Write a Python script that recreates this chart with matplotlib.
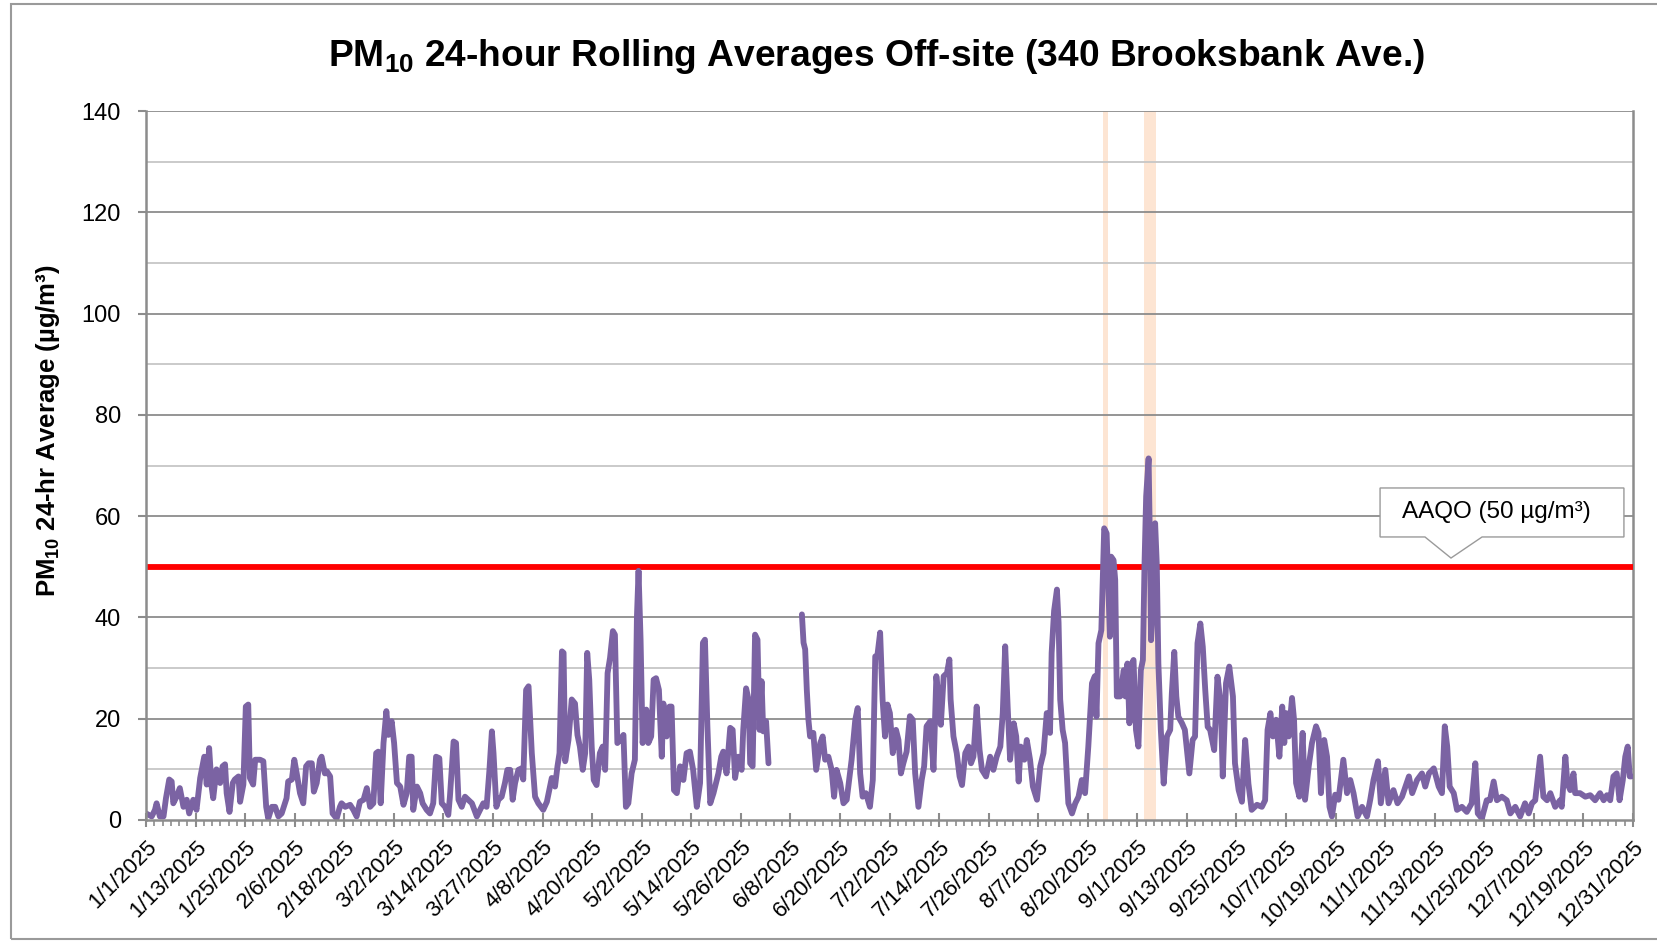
"""PM10 24-hour rolling averages, off-site monitor (340 Brooksbank Ave.)"""
import matplotlib
matplotlib.use('Agg')
import matplotlib.pyplot as plt
import numpy as np
from matplotlib.patches import Polygon, Rectangle

plt.rcParams['font.family'] = ['Liberation Sans', 'DejaVu Sans']
plt.rcParams['mathtext.default'] = 'regular'

# day of year (0 = 1/1/2025) and 24-h average PM10
days = [0, 1.4, 2.2, 2.6, 3.4, 4.3, 4.9, 5.7, 6.3, 6.7, 7.5, 8.3, 9.2, 10, 10.6, 11.6, 12.4, 13.3, 14.3, 14.9,
        15.5, 16.1, 16.5, 17.3, 18.2, 18.8, 19.4, 19.8, 20.5, 21.3, 21.8, 22.7, 23.1, 23.9, 24.5, 25.1, 25.5, 26.3,
        26.8, 28, 28.8, 29.5, 30.0, 30.9, 31.7, 32.5, 33.3, 34.5, 34.9, 35.8, 36.4, 37, 37.8, 38.6, 39.3, 39.9,
        40.7, 41.2, 41.9, 42.7, 43.1, 43.9, 44.4, 45.2, 45.8, 46.8, 47.6,
        48.0, 48.9, 50.1, 50.9, 51.7, 52.5, 53.4, 54.2, 55.0, 55.8, 56.5, 57.0, 57.6, 58.3, 59.0, 59.5, 60.3,
        60.9, 61.6, 62.4, 63.2, 64.0, 64.6, 65.2, 65.6, 66.5, 67.3, 67.9, 68.9, 69.7, 70.5, 71.2, 72.0, 72.6,
        73.4, 74.2, 74.6, 75.5, 76.1, 76.7, 77.5, 78.3, 79.1, 80.0, 81.2, 82.0, 82.8, 83.6, 84.3, 84.9, 85.3,
        86.0, 86.5, 87.3, 88.1, 88.7, 89.4, 90.0, 90.6, 91.4, 92.2, 92.6, 93.3, 93.9,
        94.7, 95.5, 96.3, 97.5, 98.4, 99.6, 100.4, 101.0, 101.5, 102.1, 102.5, 102.9, 103.7, 104.5, 105.3,
        105.9, 106.5, 107.2, 107.8, 108.3, 108.8, 109.4, 109.9, 110.6, 111.4, 112.1, 112.7, 113.3, 113.9,
        114.6, 115.1, 115.7, 116.4, 117.2, 117.8, 118.4, 119.2, 120.0, 120.5, 120.9, 121.4, 121.9, 122.8,
        123.3, 124.0, 124.6, 125.2, 125.9, 126.6, 127.0, 127.8, 128.5, 129.0, 129.6, 130.3, 131.1, 131.9,
        132.7, 133.5, 134.3, 135.2, 136.0, 136.7, 137.2, 137.8, 138.5, 139.3, 140.5,
        141.2, 141.7, 142.5, 143.4, 144.0, 144.6, 145.4, 146.2, 146.6, 147.3, 147.9, 148.3, 148.9, 149.5,
        150.1, 150.6, 151.1, 151.5, 152.2, 152.8, 157.0,
        161.0, 161.4, 161.8, 162.2, 162.6, 163.0, 163.8, 164.5, 165.5, 166.1, 166.7, 167.5, 168.3, 168.9,
        169.5, 170.4, 171.2, 172.0, 173.2, 174.1, 174.7, 175.3, 175.9, 176.7, 177.7, 178.4, 179.0, 179.5,
        180.2, 180.8, 181.4, 182.0, 182.6, 183.3, 184.1, 184.7, 185.3, 185.9, 186.7,
        187.5, 188.2, 188.8, 189.6, 190.4, 191.0, 191.6, 192.5, 193.3, 194.0, 194.5, 195.1, 195.8, 196.6,
        197.2, 197.5, 198.2, 199.0, 199.7, 200.3, 201.1, 201.9, 202.5, 203.1, 203.9, 204.6, 205.2, 206.2,
        207.2, 208.0, 208.8, 209.7, 210.3, 210.9, 211.5, 212.1, 213.0, 213.6, 214.2, 214.7, 215.6, 216.2,
        217.0, 217.7, 218.7, 219.5, 220.3, 221.1, 221.9, 222.3, 222.9, 223.6, 224.0, 224.4, 225.0, 225.6,
        226.4, 227.3, 228.1, 228.9, 229.7, 230.5, 231.3, 232.2, 232.9, 233.3, 233.8, 234.5, 235.2, 235.8,
        236.3, 236.6, 236.9, 237.5, 237.9, 238.3, 239.1, 240.0, 240.4, 240.9, 241.4, 242.0, 242.4, 243.0,
        243.6, 244.2, 244.7, 245.1, 245.5, 246.1, 246.5, 246.7, 247.3, 247.7, 248.1, 248.5, 249.1, 249.8,
        250.6, 251.4, 251.8, 252.4, 252.9, 253.4, 254.3, 255.0, 256.1, 256.9, 257.5, 258.1, 258.8, 259.4,
        260.0, 260.6, 261.2, 262.2, 263.0, 263.8, 264.3, 265.1, 265.9, 266.8, 267.3, 268.2, 269.0, 269.8,
        270.6, 271.4, 272.7, 273.9, 274.7, 275.3, 276.0, 276.6, 277.4, 278.2, 278.9, 279.4, 279.9, 280.5,
        281.3, 281.8, 282.3, 283.1, 283.9, 284.5, 285.4, 286.2, 287.2, 287.8, 288.4, 289.2, 289.9, 290.5,
        291.1, 291.9, 292.7, 293.9, 294.8, 295.6, 296.4, 297.4, 298.5, 299.7, 300.5, 301.3, 302.4, 303.1,
        304.2, 305.0, 306.2, 307.2, 308.3, 310.0, 310.8, 312.0, 313.2, 314.0, 314.9, 316.1, 317.3, 318.1,
        318.8, 319.4, 320.0, 321.0, 321.8, 323.0, 324.2, 325.4, 326.3, 326.9, 327.9, 329.1, 329.9, 330.8,
        331.6, 332.8, 334.0, 334.9, 336.1, 337.3, 338.5, 339.4, 340.2, 341.0, 342.2, 343.0, 343.9, 344.7,
        345.9, 347.1, 347.5, 348.4, 348.9, 349.6, 350.4, 350.8, 352.0, 353.3, 354.5, 355.7, 356.9, 357.8,
        358.6, 359.4, 360.2, 361.0, 361.7, 362.5, 363.1, 363.7, 364.2, 364.6]
pm10 = [1.3, 0.7, 2, 3.3, 0.7, 0.7, 4.3, 8, 7.6, 3.3, 4.6, 6.3, 2.6, 4, 1.3, 4, 2, 8.3, 12.5, 7,
        14.2, 6.6, 4.3, 10, 7.3, 10.6, 11, 5.3, 1.6, 7.3, 8, 8.6, 3.6, 7, 22.4, 22.8, 8.3, 7,
        11.9, 11.9, 11.6, 2.6, 0.3, 2.6, 2.6, 0.7, 1.3, 4.3, 7.6, 8, 11.9, 9.2, 5.3, 3.3, 10.6, 11.2,
        11.2, 5.6, 7.3, 11.9, 12.5, 9.2, 9.6, 8.6, 1.3, 0.3, 2.6,
        3.3, 2.6, 3, 2, 0.7, 3.6, 4, 6.3, 2.6, 3.3, 13.2, 13.5, 3.3, 15.2, 21.5, 16.8, 19.5,
        15.2, 7.3, 6.6, 3, 5.3, 12.5, 12.5, 2, 6.6, 5.3, 3.3, 2, 1.3, 3.3, 12.5, 12.2, 3.3,
        2.6, 1, 4.6, 15.5, 15.2, 4, 2.6, 4.6, 4, 3.3, 0.7, 2, 3.3, 2.6, 9.9, 17.5, 13.2,
        2.6, 4, 4.6, 7.3, 9.9, 9.9, 4, 7.3, 9.9, 10.2, 8, 25.7, 26.4,
        13.2, 4.6, 3.3, 2, 3.6, 8.3, 6.6, 10.6, 13.2, 33.3, 33, 11.6, 15.8, 23.8, 23,
        16.8, 14.5, 9.9, 13.2, 33, 27.7, 14.5, 7.9, 6.9, 13.2, 14.5, 9.9, 29, 32,
        37.3, 36.6, 15.2, 15.8, 16.8, 2.6, 3.3, 9.2, 11.9, 40, 49.2, 35.6, 15.2, 21.8,
        15.2, 16.5, 27.7, 28, 25.7, 12.5, 23, 16.5, 22.4, 22.4, 5.9, 5.3, 10.6, 7.9,
        13.2, 13.5, 9.9, 2.6, 7.3, 35, 35.6, 18.5, 3.3, 5.3, 9.2,
        12.5, 13.5, 9.2, 18.2, 17.8, 8.3, 12.5, 9.9, 17.8, 26, 23.8, 11.2, 10.6, 36.6,
        35.6, 17.8, 27.4, 17.5, 19.5, 11.2, None,
        40.6, 35, 33.7, 25.7, 19.8, 16.5, 17.2, 9.9, 15.2, 16.5, 11.9, 12.5, 9.9, 4.6,
        9.9, 7.3, 3.3, 4, 11.9, 19.8, 22.1, 9.2, 4.6, 5.3, 2.6, 7.9, 32.3, 32.3,
        37, 23.8, 16.5, 22.8, 21.1, 13.2, 17.8, 15.8, 9.2, 11.2, 13.5,
        20.5, 19.8, 9.2, 2.6, 7.9, 10.6, 18.5, 19.5, 9.9, 28.4, 24.4, 18.8, 28.4, 29,
        31.7, 23.8, 16.5, 13.2, 8.6, 6.9, 13.2, 14.5, 11.2, 12.5, 22.4, 13.9, 9.9, 8.6,
        12.5, 9.9, 12.5, 14.5, 21.1, 34.3, 22.4, 11.9, 19.1, 16.5, 7.6, 14.5, 11.9, 15.8,
        11.9, 6.6, 4, 10.6, 13.2, 21.1, 17.2, 33, 41.3, 45.5, 39, 23.8, 17.8, 15.2,
        3.3, 1.3, 3.3, 4.6, 7.9, 5.3, 14.5, 27, 28.4, 20.4, 34.9, 37.5, 57.6, 56.6,
        44.1, 36.2, 52, 51.3, 47.4, 24.4, 24.4, 29.6, 24.4, 30.9, 19.1, 30.9, 31.6, 17.8,
        14.5, 29.6, 31.6, 50.7, 63.9, 71.4, 50.7, 35.5, 44.1, 58.6, 50.7, 30.9, 17.8, 7.2,
        16.5, 17.8, 25, 33.2, 24.4, 20.4, 19.1, 17.8, 9.2, 15.8, 16.5, 34.9, 38.8, 34.2,
        25.7, 18.4, 17.8, 13.8, 28.3, 23, 8.6, 27, 30.3, 24.4, 11.2, 5.9, 3.6, 15.8,
        7.2, 2, 3, 2.6, 3.9, 17.8, 21.1, 16.5, 19.8, 12.5, 22.4, 15.2, 21.1, 16.5,
        24.1, 19.8, 7.3, 4.6, 17.2, 4, 10.6, 15.2, 18.5, 17.2, 5.3, 15.8, 12.5, 2.6,
        0.7, 5, 4, 11.9, 5.3, 7.9, 5.3, 0.7, 2.6, 0.7, 4, 7.9, 11.6, 3.3,
        9.9, 3.3, 5.9, 3.3, 4.6, 8.6, 5.3, 7.9, 9.2, 6.6, 9.2, 10.2, 6.6, 5.3,
        18.5, 14.5, 6.6, 5.3, 2, 2.6, 1.6, 3.3, 11.2, 1.3, 0.3, 3.9, 3.9, 7.6,
        3.9, 4.6, 3.9, 1.3, 2.6, 0.7, 3.3, 1.3, 3.3, 3.9, 12.5, 4.6, 3.9, 5.3,
        2.6, 3.9, 2.6, 12.5, 7.2, 5.9, 9.2, 5.3, 5.3, 4.6, 4.9, 3.9, 5.3, 3.9,
        4.9, 3.9, 8.6, 9.2, 3.9, 7.9, 12.5, 14.5, 8.6, 8.6]

tick_labels = ['1/1/2025', '1/13/2025', '1/25/2025', '2/6/2025', '2/18/2025', '3/2/2025', '3/14/2025',
               '3/27/2025', '4/8/2025', '4/20/2025', '5/2/2025', '5/14/2025', '5/26/2025', '6/8/2025',
               '6/20/2025', '7/2/2025', '7/14/2025', '7/26/2025', '8/7/2025', '8/20/2025', '9/1/2025',
               '9/13/2025', '9/25/2025', '10/7/2025', '10/19/2025', '11/1/2025', '11/13/2025',
               '11/25/2025', '12/7/2025', '12/19/2025', '12/31/2025']
aaqo = 50  # ug/m3 objective
# shaded periods (day of year start, end)
shaded = [(234.8, 236.1), (245.0, 247.9)]

purple = '#7b63a3'
grid_major = '#8c8c8c'
grid_minor = '#c6c6c6'

fig = plt.figure(figsize=(16.57, 9.42), dpi=100)
ax = fig.add_axes([146 / 1657, 1 - 820 / 942, 1487 / 1657, 709 / 942])

y = np.array([np.nan if v is None else v for v in pm10], dtype=float)
x = np.array(days, dtype=float)

for s, e in shaded:
    ax.axvspan(s, e, color='#fde5d3', zorder=1, lw=0)

ax.set_ylim(0, 140)
ax.set_xlim(0, 365)
ax.set_yticks(np.arange(0, 141, 20))
ax.set_yticks(np.arange(10, 140, 20), minor=True)
for v in np.arange(20, 141, 20):
    ax.axhline(v, color=grid_major, lw=1.3, zorder=2)
for v in np.arange(10, 140, 20):
    ax.axhline(v, color=grid_minor, lw=1.3, zorder=2)

ax.axhline(aaqo, color='#ff0000', lw=4.2, zorder=3)
ax.plot(x, y, color=purple, lw=4.2, solid_joinstyle='round', solid_capstyle='round', zorder=4)

ax.spines['top'].set_visible(False)
for side in ['left', 'bottom', 'right']:
    ax.spines[side].set_color(grid_major)
    ax.spines[side].set_linewidth(1.8)
ax.spines['left'].set_zorder(5)
ax.spines['bottom'].set_zorder(5)

major_x = np.linspace(0, 365, len(tick_labels))
ax.set_xticks(major_x)
ax.set_xticks(np.linspace(0, 365, 6 * (len(tick_labels) - 1) + 1), minor=True)
ax.set_xticklabels(tick_labels, rotation=45, ha='right', va='top', rotation_mode='anchor', fontsize=16)
ax.tick_params(axis='x', which='major', direction='inout', length=10, width=1.5, color=grid_major, pad=7)
ax.tick_params(axis='x', which='minor', direction='out', length=4, width=1.2, color=grid_major)
ax.tick_params(axis='y', which='major', direction='out', length=6, width=1.5, color=grid_major,
               labelsize=17, pad=12)
ax.tick_params(axis='y', which='minor', length=0)

ax.set_ylabel(r'PM$_{10}$ 24-hr Average (µg/m³)', fontsize=18.5, fontweight='bold', va='center')
ax.yaxis.set_label_coords(-0.066, 0.549)

fig.text(0.529, 0.9405, r'PM$_{10}$ 24-hour Rolling Averages Off-site (340 Brooksbank Ave.)',
         ha='center', va='center', fontsize=26.7, fontweight='bold')

# callout box for the objective line (axes fraction coordinates)
L, R, T, B = 0.8299, 0.9939, 0.4683, 0.3992
callout = Polygon([(L, T), (R, T), (R, B), (0.8985, B), (0.8776, 0.3695), (0.8601, B), (L, B)],
                  closed=True, transform=ax.transAxes, facecolor='white', edgecolor='#9a9a9a',
                  lw=1.0, zorder=6)
ax.add_patch(callout)
ax.text((L + R) / 2 - 0.004, (T + B) / 2, 'AAQO (50 µg/m³)', transform=ax.transAxes,
        ha='center', va='center', fontsize=17.5, zorder=7)

# chart area border
fig.patches.append(Rectangle((10.5 / 1657, 3 / 942), 1.0, 1 - 7 / 942, transform=fig.transFigure,
                             fill=False, edgecolor='#9a9a9a', lw=1.5))

fig.savefig('out.png', dpi=100)
